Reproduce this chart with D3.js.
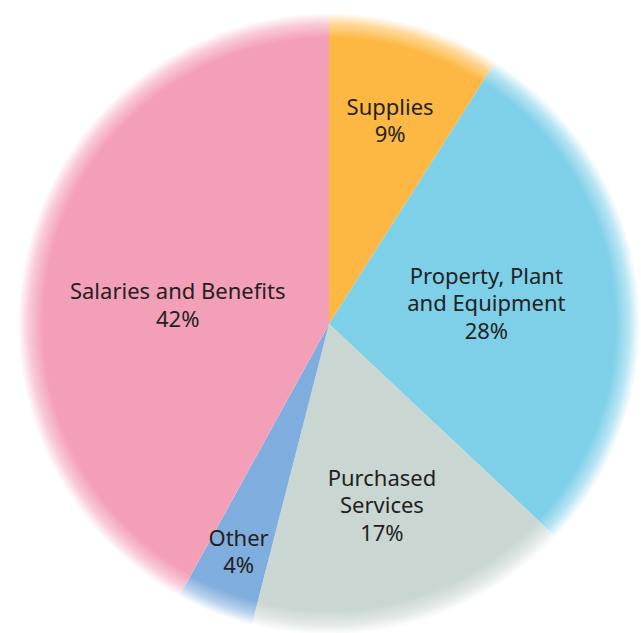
<!DOCTYPE html>
<html>
<head>
<meta charset="utf-8">
<script src="https://cdn.jsdelivr.net/npm/d3@7"></script>
<style>
  body { margin: 0; background: #fff; }
  svg { display: block; }
</style>
</head>
<body>
<div id="chart"></div>
<script>
var categories = ["Supplies", "Property, Plant|and Equipment", "Purchased|Services", "Other", "Salaries and Benefits"];
var shares = [9, 28, 17, 4, 42];
var colours = ["#FDB843", "#7ECFE8", "#CAD6D2", "#7FADDD", "#F49FB8"];
// label placement: radius (fraction of R) and angle nudge in degrees
var labelAt = [[0.68, 0.6], [0.51, 0], [0.61, 0], [0.79, 0], [0.49, -7.6]];

var width = 641, height = 633;
var cx = 329, cy = 324, R = 311;

var svg = d3.select("#chart").append("svg")
  .attr("width", width)
  .attr("height", height);

// soft edge: each slice fades out near the rim
var defs = svg.append("defs");
colours.forEach(function (c, i) {
  var grad = defs.append("radialGradient")
    .attr("id", "fade" + i)
    .attr("gradientUnits", "userSpaceOnUse")
    .attr("cx", 0).attr("cy", 0).attr("r", R);
  grad.append("stop").attr("offset", "0.92").attr("stop-color", c).attr("stop-opacity", 1);
  grad.append("stop").attr("offset", "0.965").attr("stop-color", c).attr("stop-opacity", 0.55);
  grad.append("stop").attr("offset", "1").attr("stop-color", c).attr("stop-opacity", 0);
});

var pie = d3.pie().sort(null).value(function (d) { return d; });
var arcs = pie(shares);
var arc = d3.arc().innerRadius(0).outerRadius(R);

var g = svg.append("g").attr("transform", "translate(" + cx + "," + cy + ")");

g.selectAll("path.slice")
  .data(arcs)
  .enter().append("path")
  .attr("class", "slice")
  .attr("d", arc)
  .style("fill", function (d, i) { return "url(#fade" + i + ")"; });

var lineH = 27.5;
g.selectAll("text.label")
  .data(arcs)
  .enter().append("text")
  .attr("class", "label")
  .attr("text-anchor", "middle")
  .style("font-family", "'Noto Sans', sans-serif")
  .style("font-size", "22px")
  .style("fill", "#231F20")
  .each(function (d, i) {
    var mid = (d.startAngle + d.endAngle) / 2 + labelAt[i][1] * Math.PI / 180;
    var r = labelAt[i][0] * R;
    var x = r * Math.sin(mid), y = -r * Math.cos(mid);
    var lines = categories[i].split("|").concat([shares[i] + "%"]);
    var y0 = y - (lines.length - 1) * lineH / 2 + 7;
    var t = d3.select(this);
    lines.forEach(function (ln, k) {
      t.append("tspan").attr("x", x).attr("y", y0 + k * lineH).text(ln);
    });
  });
</script>
</body>
</html>
